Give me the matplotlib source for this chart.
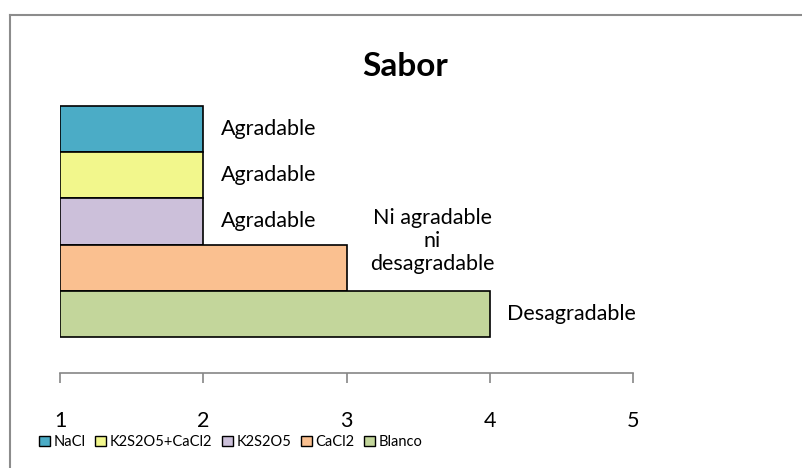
import matplotlib
matplotlib.use("Agg")
import matplotlib.pyplot as plt
from matplotlib.patches import Rectangle
from matplotlib.lines import Line2D

series = ["NaCl", "K2S2O5+CaCl2", "K2S2O5", "CaCl2", "Blanco"]
values = [2, 2, 2, 3, 4]
labels = ["Agradable", "Agradable", "Agradable", "Ni agradable\nni\ndesagradable", "Desagradable"]
colors = ["#4BACC6", "#F2F78C", "#CCC0DA", "#FAC090", "#C3D69B"]
xticks = [1, 2, 3, 4, 5]

plt.rcParams['font.family'] = ['Lato', 'DejaVu Sans']

W, H = 803, 468
fig = plt.figure(figsize=(W / 100, H / 100), dpi=100)

# outer frame (cropped at right/bottom)
fig.add_artist(Line2D([10 / W, 10 / W], [0, 1 - 15 / H], color="#8C8C8C", lw=1.5, transform=fig.transFigure))
fig.add_artist(Line2D([10 / W, 1], [1 - 15 / H, 1 - 15 / H], color="#8C8C8C", lw=1.5, transform=fig.transFigure))

ax_left, ax_right = 60 / W, 633 / W
ax_bottom = (H - 373) / H
ax_top = (H - 100) / H
ax = fig.add_axes([ax_left, ax_bottom, ax_right - ax_left, ax_top - ax_bottom])

n = len(series)
ypos = [n - 1 - i for i in range(n)]
ax.barh(ypos, [v - 1 for v in values], left=1, height=1.0, color=colors,
        edgecolor="black", linewidth=1.2)

bar_px = 46.0
ax.set_ylim(-0.5 - 36 / bar_px, n - 0.5 + 6 / bar_px)
ax.set_xlim(1, 5)

for y, v, lab in zip(ypos, values, labels):
    if "\n" in lab:
        ax.text(v + 0.6, y + 0.57, lab, ha="center", va="center", fontsize=15.5, linespacing=1.2)
    else:
        ax.text(v + 0.12, y, lab, ha="left", va="center", fontsize=15.5)

for s in ["top", "right", "left"]:
    ax.spines[s].set_visible(False)
ax.spines["bottom"].set_color("#868686")
ax.spines["bottom"].set_linewidth(1.2)
ax.set_yticks([])
ax.set_xticks(xticks)
ax.set_xticklabels([str(t) for t in xticks], fontsize=15.5)
ax.tick_params(axis="x", direction="out", length=7.5, width=1.2, color="#868686", pad=20)

fig.text(405 / W, 1 - 66 / H, "Sabor", ha="center", va="center", fontsize=24, fontweight="bold")

handles = [Rectangle((0, 0), 1, 1, facecolor=c, edgecolor="black", linewidth=1.0) for c in colors]
fig.legend(handles, series, loc="center", bbox_to_anchor=(231 / W, 1 - 442 / H), ncol=5,
           frameon=False, fontsize=10.5, handlelength=0.75, handleheight=0.75, handletextpad=0.25,
           columnspacing=0.65, borderpad=0)

fig.savefig("out.png", dpi=100)
